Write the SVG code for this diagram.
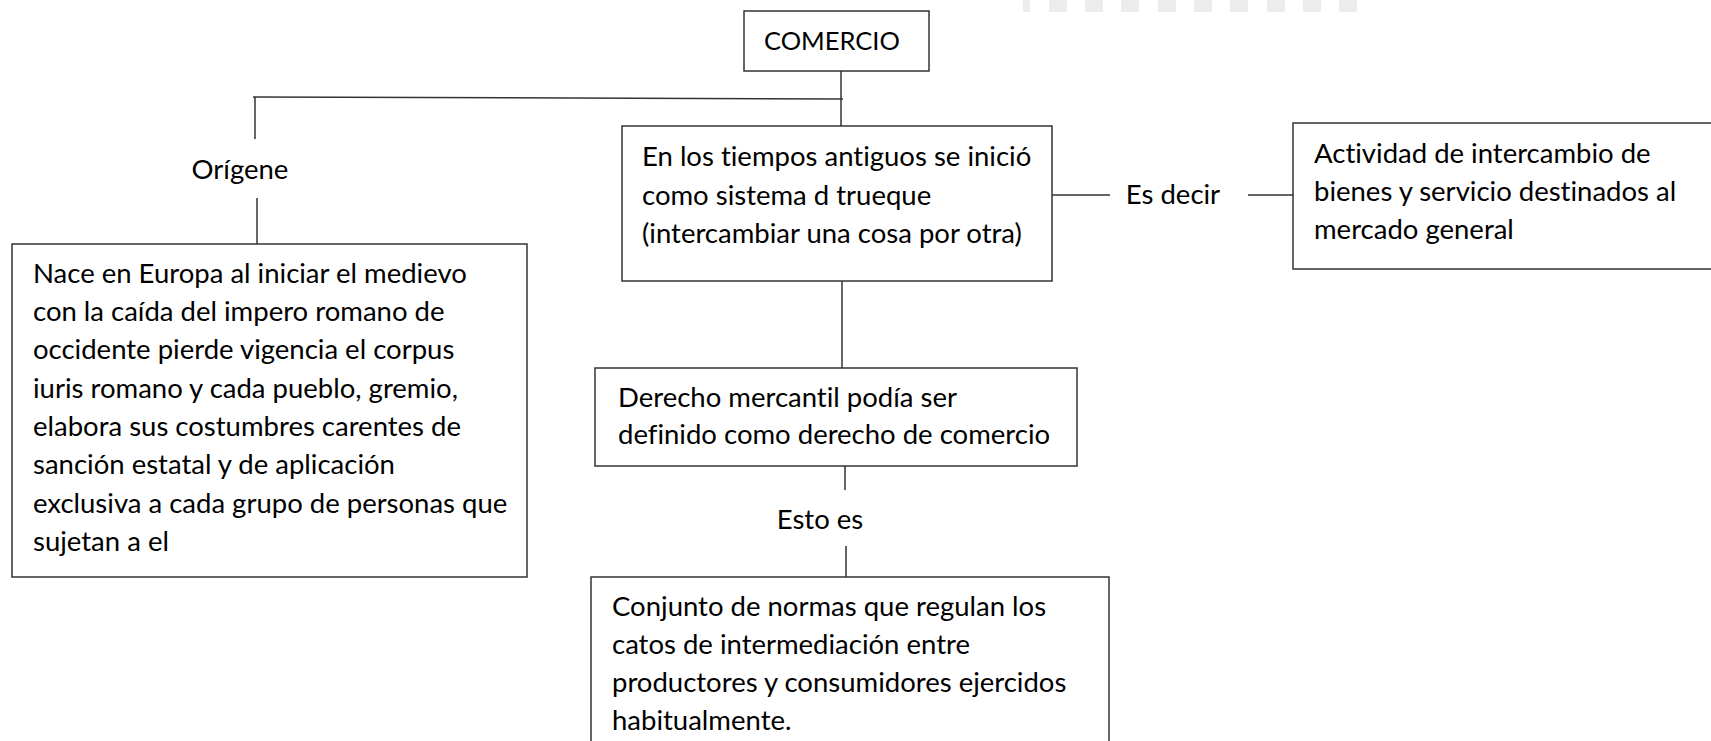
<svg xmlns="http://www.w3.org/2000/svg" width="1711" height="741" viewBox="0 0 1711 741">
<style>
.box{fill:#fff;stroke:#333;stroke-width:1.5}
.ln{stroke:#333;stroke-width:1.5;fill:none}
.t{font-family:Lato,"Open Sans","Liberation Sans",sans-serif;font-size:27.5px;fill:#000;font-variant-ligatures:none}
.cap{font-size:25.5px}
.bar{fill:#ececec}
</style>
<rect width="1711" height="741" fill="#fff"/>
<g id="watermark">
<rect class="bar" x="1023" y="0" width="7" height="12"/>
<rect class="bar" x="1049" y="0" width="18" height="12"/>
<rect class="bar" x="1085" y="0" width="18" height="12"/>
<rect class="bar" x="1121" y="0" width="18" height="12"/>
<rect class="bar" x="1158" y="0" width="18" height="12"/>
<rect class="bar" x="1194" y="0" width="18" height="12"/>
<rect class="bar" x="1230" y="0" width="18" height="12"/>
<rect class="bar" x="1267" y="0" width="18" height="12"/>
<rect class="bar" x="1303" y="0" width="18" height="12"/>
<rect class="bar" x="1339" y="0" width="18" height="12"/>
</g>
<g id="connectors">
<line class="ln" x1="841" y1="71" x2="841" y2="126"/>
<line class="ln" x1="253" y1="97" x2="843" y2="99"/>
<line class="ln" x1="255" y1="97" x2="255" y2="139"/>
<line class="ln" x1="257" y1="198" x2="257" y2="244"/>
<line class="ln" x1="1052" y1="195" x2="1110" y2="195"/>
<line class="ln" x1="1248" y1="195" x2="1293" y2="195"/>
<line class="ln" x1="842" y1="281" x2="842" y2="368"/>
<line class="ln" x1="845" y1="466" x2="845" y2="490"/>
<line class="ln" x1="846" y1="546" x2="846" y2="577"/>
</g>
<g id="comercio">
<rect class="box" x="744" y="11" width="185" height="60"/>
<text class="t cap" x="764" y="50">COMERCIO</text>
</g>
<g id="label-origene">
<text class="t" x="240" y="179" text-anchor="middle">Orígene</text>
</g>
<g id="nace">
<rect class="box" x="12" y="244" width="515" height="333"/>
<text class="t" x="33" y="283">Nace en Europa al iniciar el medievo</text>
<text class="t" x="33" y="321">con la caída del impero romano de</text>
<text class="t" x="33" y="359">occidente pierde vigencia el corpus</text>
<text class="t" x="33" y="398">iuris romano y cada pueblo, gremio,</text>
<text class="t" x="33" y="436">elabora sus costumbres carentes de</text>
<text class="t" x="33" y="474">sanción estatal y de aplicación</text>
<text class="t" x="33" y="513">exclusiva a cada grupo de personas que</text>
<text class="t" x="33" y="551">sujetan a el</text>
</g>
<g id="tiempos">
<rect class="box" x="622" y="126" width="430" height="155"/>
<text class="t" x="642" y="166">En los tiempos antiguos se inició</text>
<text class="t" x="642" y="205">como sistema d trueque</text>
<text class="t" x="642" y="243">(intercambiar una cosa por otra)</text>
</g>
<g id="label-esdecir">
<text class="t" x="1173" y="204" text-anchor="middle">Es decir</text>
</g>
<g id="actividad">
<rect class="box" x="1293" y="123" width="440" height="146"/>
<text class="t" x="1314" y="163">Actividad de intercambio de</text>
<text class="t" x="1314" y="201">bienes y servicio destinados al</text>
<text class="t" x="1314" y="239">mercado general</text>
</g>
<g id="derecho">
<rect class="box" x="595" y="368" width="482" height="98"/>
<text class="t" x="618" y="407">Derecho mercantil podía ser</text>
<text class="t" x="618" y="444">definido como derecho de comercio</text>
</g>
<g id="label-estoes">
<text class="t" x="820" y="529" text-anchor="middle">Esto es</text>
</g>
<g id="conjunto">
<rect class="box" x="591" y="577" width="518" height="180"/>
<text class="t" x="612" y="616">Conjunto de normas que regulan los</text>
<text class="t" x="612" y="654">catos de intermediación entre</text>
<text class="t" x="612" y="692">productores y consumidores ejercidos</text>
<text class="t" x="612" y="730">habitualmente.</text>
</g>
</svg>
